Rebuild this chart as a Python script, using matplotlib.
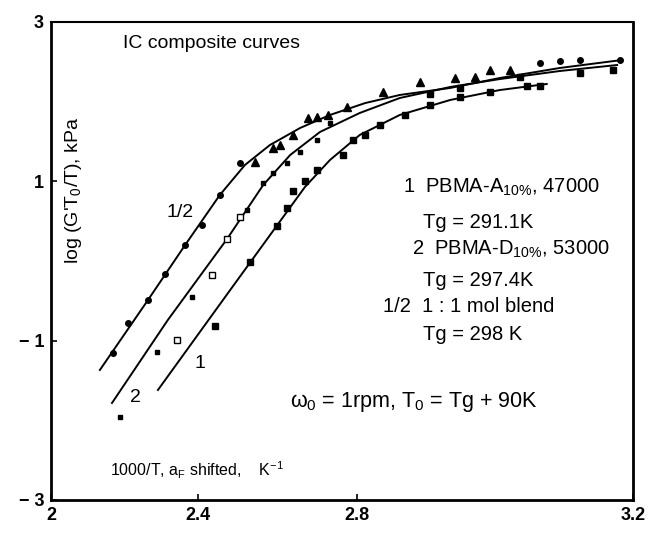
import numpy as np
import matplotlib
matplotlib.use("Agg")
import matplotlib.pyplot as plt

plt.rcParams["font.family"] = ["Liberation Sans", "DejaVu Sans"]
plt.rcParams["mathtext.fontset"] = "custom"
plt.rcParams["mathtext.rm"] = "Liberation Sans"
plt.rcParams["mathtext.it"] = "Liberation Sans"

# --- data ---
# blend 1/2 : fitted curve and points
blend_line_x = [2.133, 2.264, 2.365, 2.455, 2.518, 2.581, 2.657, 2.732, 2.812, 2.862, 2.935, 3.007, 3.094, 3.184]
blend_line_y = [-1.368, -0.489, 0.201, 0.829, 1.205, 1.456, 1.670, 1.833, 1.983, 2.084, 2.172, 2.297, 2.423, 2.523]
blend_dot_x = [2.169, 2.210, 2.264, 2.310, 2.365, 2.410, 2.455, 2.506, 3.065, 3.094, 3.123, 3.181]
blend_dot_y = [-1.155, -0.778, -0.489, -0.163, 0.201, 0.452, 0.829, 1.230, 2.485, 2.510, 2.523, 2.523]
blend_tri_x = [2.543, 2.589, 2.606, 2.639, 2.677, 2.699, 2.727, 2.775, 2.838, 2.891, 2.942, 2.971, 2.993, 3.022]
blend_tri_y = [1.243, 1.418, 1.456, 1.582, 1.795, 1.808, 1.833, 1.933, 2.121, 2.247, 2.297, 2.310, 2.398, 2.398]

# curve 2 : PBMA-D
c2_line_x = [2.166, 2.318, 2.473, 2.564, 2.632, 2.707, 2.804, 2.862, 2.935, 3.007, 3.094, 3.177]
c2_line_y = [-1.782, -0.740, 0.276, 0.954, 1.331, 1.620, 1.858, 2.046, 2.184, 2.284, 2.385, 2.460]
c2_fill_x = [2.188, 2.288, 2.384, 2.523, 2.564, 2.589, 2.624, 2.657, 2.699, 2.732]
c2_fill_y = [-1.958, -1.142, -0.452, 0.640, 0.979, 1.104, 1.230, 1.368, 1.519, 1.732]
c2_open_x = [2.343, 2.435, 2.473, 2.506]
c2_open_y = [-0.991, -0.176, 0.276, 0.552]
c2_sq_x = [2.906, 2.949, 3.036, 3.123, 3.171]
c2_sq_y = [2.096, 2.172, 2.310, 2.360, 2.398]

# curve 1 : PBMA-A
c1_line_x = [2.291, 2.481, 2.669, 2.732, 2.804, 2.862, 2.935, 3.007, 3.075]
c1_line_y = [-1.619, -0.364, 0.929, 1.268, 1.582, 1.833, 2.021, 2.146, 2.222]
c1_sq_x = [2.443, 2.531, 2.599, 2.624, 2.639, 2.669, 2.699, 2.765, 2.790, 2.812, 2.833, 2.870, 2.906, 2.949, 2.993, 3.046, 3.065]
c1_sq_y = [-0.816, -0.012, 0.439, 0.665, 0.879, 1.004, 1.142, 1.331, 1.519, 1.582, 1.707, 1.833, 1.958, 2.059, 2.121, 2.197, 2.197]

xticks = [2, 2.4, 2.8, 3.2]
xticklabels = ["2", "2.4", "2.8", "3.2"]
yticks = [-3, -1, 1, 3]
yticklabels = ["\u2212 3", "\u2212 1", "1", "3"]

# the printed x axis is not evenly spaced; map it piecewise so ticks land where printed
_xk = [2.0, 2.4, 2.8, 3.2]
_uk = [0.0, 147.0, 306.0, 582.0]
fwd = lambda x: np.interp(x, _xk, _uk)
inv = lambda u: np.interp(u, _uk, _xk)

fig = plt.figure(figsize=(6.48, 5.34), dpi=100)
ax = fig.add_axes([51 / 648, 34 / 534, 582 / 648, 478 / 534])
ax.set_xscale("function", functions=(fwd, inv))
ax.set_xlim(2, 3.2)
ax.set_ylim(-3, 3)

k = "black"
ax.plot(blend_line_x, blend_line_y, color=k, lw=1.4)
ax.plot(c2_line_x, c2_line_y, color=k, lw=1.4)
ax.plot(c1_line_x, c1_line_y, color=k, lw=1.4)

ax.plot(blend_dot_x, blend_dot_y, "o", color=k, ms=4)
ax.plot(blend_tri_x, blend_tri_y, "^", color=k, ms=5.5)
ax.plot(c2_fill_x, c2_fill_y, "s", color=k, ms=3.5)
ax.plot(c2_open_x, c2_open_y, "s", mfc="white", mec=k, mew=1.0, ms=4.5)
ax.plot(c2_sq_x, c2_sq_y, "s", color=k, ms=4)
ax.plot(c1_sq_x, c1_sq_y, "s", color=k, ms=4.5)

ax.set_xticks(xticks)
ax.set_xticklabels(xticklabels)
ax.set_yticks(yticks)
ax.set_yticklabels(yticklabels)
ax.tick_params(direction="in", length=4, width=1.2, labelsize=13, pad=5)
for lab in ax.get_xticklabels() + ax.get_yticklabels():
    lab.set_fontweight("bold")
for s in ["left", "bottom", "right"]:
    ax.spines[s].set_linewidth(2.0)
ax.spines["top"].set_linewidth(1.5)

fs = 14.5
def px(x, y, s, **kw):
    # place text by figure pixel position
    fig.text(x / 648, 1 - y / 534, s, fontsize=kw.pop("fontsize", fs), va="center", **kw)

px(123, 44, "IC composite curves", fontsize=14)
px(403, 187, "1  PBMA-A$_{10\\%}$, 47000")
px(423, 222, "Tg = 291.1K")
px(412, 249, "2  PBMA-D$_{10\\%}$, 53000")
px(423, 281, "Tg = 297.4K")
px(383, 307, "1/2  1 : 1 mol blend")
px(423, 334, "Tg = 298 K")
px(290, 402, "$\\omega_0$ = 1rpm, T$_0$ = Tg + 90K", fontsize=15.5)
px(110, 470, "1000/T, a$_F$ shifted,    K$^{-1}$", fontsize=11.5)
px(167, 212, "1/2", fontsize=14)
px(130, 398, "2", fontsize=14)
px(195, 363, "1", fontsize=14)
fig.text(73 / 648, 1 - 190 / 534, "log (G'T$_0$/T), kPa", rotation=90,
         fontsize=14, ha="center", va="center")

fig.savefig("out.png", dpi=100)
